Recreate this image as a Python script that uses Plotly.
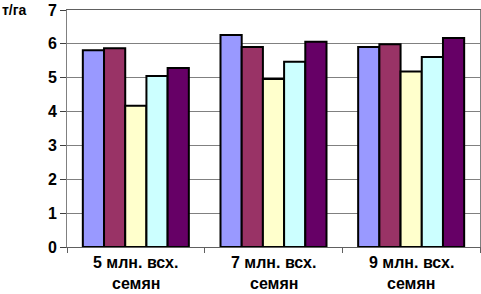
import plotly.graph_objects as go

categories = ["5 млн. всх.", "7 млн. всх.", "9 млн. всх."]
category_line2 = ["семян", "семян", "семян"]
series1 = [5.81, 6.26, 5.91]
series2 = [5.87, 5.91, 5.99]
series3 = [4.17, 4.96, 5.18]
series4 = [5.05, 5.47, 5.61]
series5 = [5.29, 6.06, 6.17]
colors = ["#9999FF", "#993366", "#FFFFCC", "#CCFFFF", "#660066"]
y_ticks = [0, 1, 2, 3, 4, 5, 6, 7]

fig = go.Figure()
for i, vals in enumerate([series1, series2, series3, series4, series5]):
    fig.add_trace(go.Bar(
        x=categories, y=vals, name=f"s{i+1}",
        marker=dict(color=colors[i], line=dict(color="black", width=2)),
    ))

FAM = "Liberation Sans, Arial, sans-serif"
fig.update_layout(
    width=481, height=294,
    margin=dict(l=67, r=1, t=10, b=47),
    barmode="group", bargap=0.23, bargroupgap=0,
    showlegend=False,
    plot_bgcolor="white", paper_bgcolor="white",
    font=dict(family=FAM, size=15, color="black"),
)
fig.update_yaxes(
    range=[0, 7], tickvals=y_ticks,
    showgrid=True, gridcolor="#808080", gridwidth=1,
    showline=True, linecolor="#808080", linewidth=1, mirror=True,
    ticks="outside", ticklen=6, tickcolor="#404040",
    ticklabelstandoff=0,
    tickfont=dict(family=FAM, size=16, color="black", weight="bold"),
    zeroline=False,
)
fig.update_xaxes(
    showline=True, linecolor="#606060", linewidth=1, mirror=True,
    ticks="outside", ticklen=5, tickcolor="#606060", tickson="boundaries",
    showticklabels=False,
)
lab_font = dict(family=FAM, size=16, color="black", weight="bold")
for c, l2 in zip(categories, category_line2):
    fig.add_annotation(text=c, xref="x", yref="paper", x=c, y=-15.5 / 237,
                       xanchor="center", yanchor="middle", showarrow=False, font=lab_font)
    fig.add_annotation(text=l2, xref="x", yref="paper", x=c, y=-36 / 237,
                       xanchor="center", yanchor="middle", showarrow=False, font=lab_font)
fig.add_annotation(
    text="т/га", xref="paper", yref="paper", x=-67 / 413, y=1.0, xshift=0,
    xanchor="left", yanchor="middle", showarrow=False,
    font=dict(family=FAM, size=14, color="black", weight="bold"),
)
fig.write_html(
    "out.html",
    config={"displayModeBar": False},
    post_script="document.body.style.margin='0';document.body.style.overflow='hidden';",
)
